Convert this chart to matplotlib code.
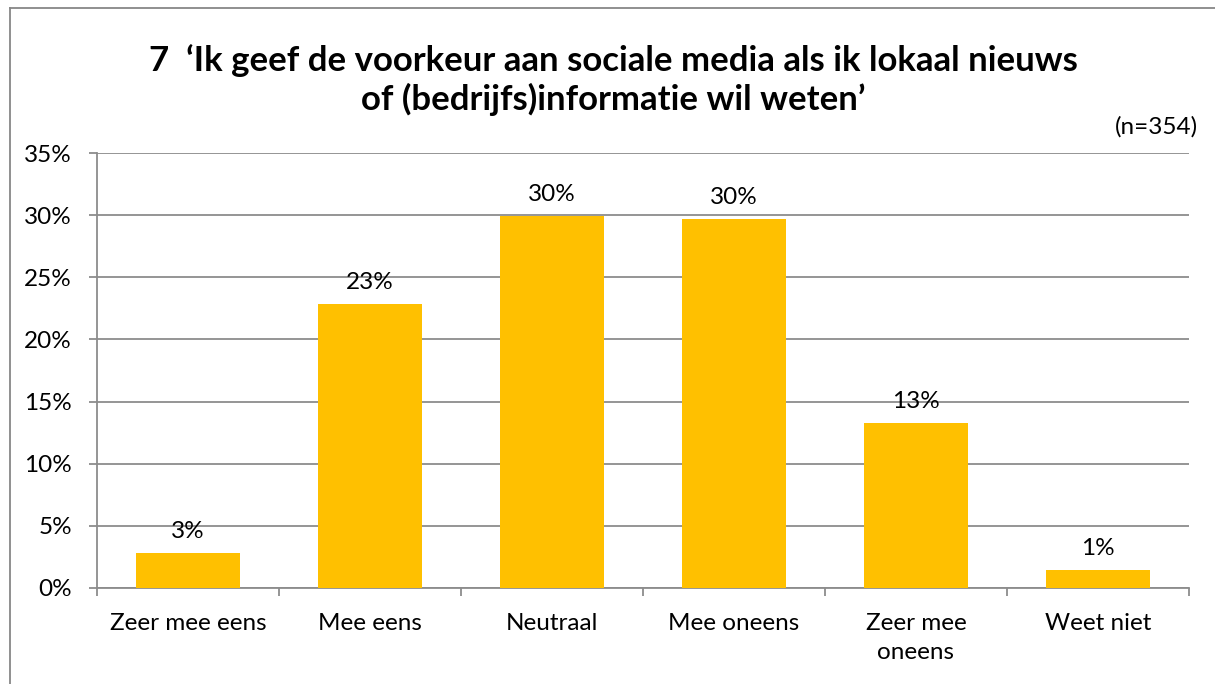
import matplotlib
matplotlib.use("Agg")
import matplotlib.pyplot as plt
from matplotlib.lines import Line2D
from matplotlib.ticker import FixedLocator, PercentFormatter

# ---- data (n=354)
categories = ["Zeer mee eens", "Mee eens", "Neutraal", "Mee oneens", "Zeer mee\noneens", "Weet niet"]
values = [2.82, 22.88, 29.94, 29.66, 13.28, 1.41]
labels = ["3%", "23%", "30%", "30%", "13%", "1%"]
title = "7  \u2018Ik geef de voorkeur aan sociale media als ik lokaal nieuws\nof (bedrijfs)informatie wil weten\u2019"
note = "(n=354)"

BAR = "#FFC000"
GRID = "#8C8C8C"
FS = 17.5

plt.rcParams["font.family"] = ["Lato", "DejaVu Sans"]

W, H = 1215, 684
fig = plt.figure(figsize=(W / 100, H / 100), dpi=100)
ax = fig.add_axes([97 / W, 1 - 588 / H, (1189 - 97) / W, (588 - 153) / H])

x = range(len(categories))
ax.bar(x, values, width=0.57, color=BAR, zorder=3)
for xi, v, lab in zip(x, values, labels):
    ax.annotate(lab, (xi, v), xytext=(0, 8), textcoords="offset points",
                ha="center", va="bottom", fontsize=FS, color="black")

ax.set_xlim(-0.5, len(categories) - 0.5)
ax.set_ylim(0, 35)
ax.set_yticks(range(0, 36, 5))
ax.yaxis.set_major_formatter(PercentFormatter(decimals=0))
ax.yaxis.grid(True, color=GRID, linewidth=1.3, zorder=0)

ax.set_xticks(list(x))
ax.set_xticklabels(categories, fontsize=FS, linespacing=1.45)
ax.xaxis.set_minor_locator(FixedLocator([i - 0.5 for i in range(len(categories) + 1)]))
ax.tick_params(axis="x", which="major", length=0, pad=18)
ax.tick_params(axis="x", which="minor", length=6, width=1.3, color=GRID, direction="out")
ax.tick_params(axis="y", length=6, width=1.3, color=GRID, pad=12, labelsize=FS)

for s in ("top", "right"):
    ax.spines[s].set_visible(False)
for s in ("left", "bottom"):
    ax.spines[s].set_color(GRID)
    ax.spines[s].set_linewidth(1.3)

fig.text(0.505, 1 - 80 / H, title, ha="center", va="center",
         fontsize=25, fontweight="bold", linespacing=1.2)
fig.text(1198 / W, 1 - 127 / H, note, ha="right", va="center", fontsize=FS)

# outer chart frame (only left and top show)
fx, fy = 9.5 / W, 1 - 7.5 / H
fig.add_artist(Line2D([fx, fx], [0, fy], transform=fig.transFigure, color="#878787", lw=1.3))
fig.add_artist(Line2D([fx, 1], [fy, fy], transform=fig.transFigure, color="#878787", lw=1.3))

fig.savefig("out.png", dpi=100)
